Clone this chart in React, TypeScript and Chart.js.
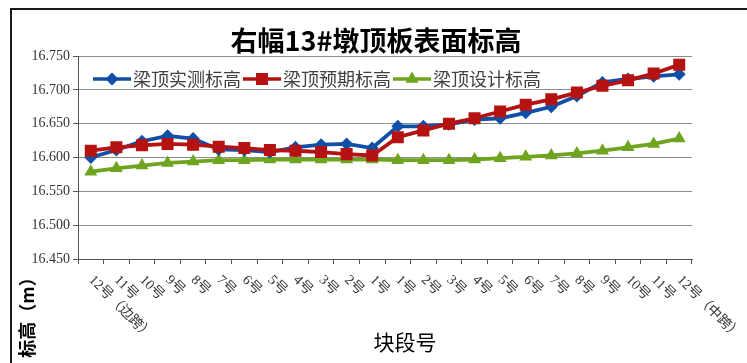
import React, { useEffect, useRef } from "react";
import { Chart, registerables } from "chart.js";

Chart.register(...registerables);

const categories = [
  "12号（边跨）", "11号", "10号", "9号", "8号", "7号", "6号", "5号", "4号", "3号", "2号", "1号",
  "1号", "2号", "3号", "4号", "5号", "6号", "7号", "8号", "9号", "10号", "11号", "12号（中跨）",
];
const seriesNames = ["梁顶实测标高", "梁顶预期标高", "梁顶设计标高"];
const measured = [
  16.600, 16.611, 16.624, 16.632, 16.628, 16.612, 16.611, 16.608, 16.615, 16.619, 16.620, 16.614,
  16.646, 16.646, 16.649, 16.656, 16.658, 16.666, 16.675, 16.691, 16.711, 16.716, 16.720, 16.723,
];
const expected = [
  16.610, 16.615, 16.618, 16.620, 16.619, 16.616, 16.614, 16.611, 16.610, 16.608, 16.605, 16.603,
  16.630, 16.640, 16.650, 16.658, 16.668, 16.678, 16.686, 16.696, 16.706, 16.714, 16.724, 16.737,
];
const design = [
  16.579, 16.584, 16.588, 16.592, 16.594, 16.596, 16.596, 16.597, 16.597, 16.597, 16.597, 16.597,
  16.596, 16.596, 16.596, 16.597, 16.599, 16.601, 16.603, 16.606, 16.610, 16.615, 16.620, 16.628,
];
const yMin = 16.45;
const yMax = 16.75;
const yStep = 0.05;
const chartTitle = "右幅13#墩顶板表面标高";
const xTitle = "块段号";
const yTitle = "标高（m）";

const COLORS = ["#0F4FA8", "#B51212", "#6FA51E"];
const STYLES = ["rectRot", "rect", "triangle"];
const RADII = [6.5, 8.5, 7.5];

const CJK = '"Noto Sans CJK SC"';
const SERIF = '"Liberation Serif", "Noto Sans CJK SC"';

function drawMarker(ctx: CanvasRenderingContext2D, style: string, x: number, y: number, r: number) {
  ctx.beginPath();
  if (style === "rectRot") {
    ctx.moveTo(x, y - r);
    ctx.lineTo(x + r, y);
    ctx.lineTo(x, y + r);
    ctx.lineTo(x - r, y);
  } else if (style === "rect") {
    const s = r * Math.SQRT1_2;
    ctx.rect(x - s, y - s, 2 * s, 2 * s);
  } else {
    ctx.moveTo(x, y - r);
    ctx.lineTo(x + r * Math.sin(Math.PI / 3), y + r * 0.5);
    ctx.lineTo(x - r * Math.sin(Math.PI / 3), y + r * 0.5);
  }
  ctx.closePath();
  ctx.fill();
}

const decor = {
  id: "decor",
  beforeDraw(chart: any) {
    const ctx = chart.ctx;
    ctx.save();
    ctx.fillStyle = "#ffffff";
    ctx.fillRect(0, 0, chart.width, chart.height);
    ctx.strokeStyle = "#1a1a1a";
    ctx.lineWidth = 2;
    ctx.beginPath();
    ctx.moveTo(11, chart.height + 2);
    ctx.lineTo(11, 9);
    ctx.lineTo(chart.width + 2, 9);
    ctx.stroke();
    ctx.restore();
  },
  afterDraw(chart: any) {
    const ctx = chart.ctx;
    const xs = chart.scales.x;
    const area = chart.chartArea;
    ctx.save();

    // title
    ctx.fillStyle = "#000";
    ctx.font = `bold 27px ${CJK}`;
    ctx.textAlign = "center";
    ctx.textBaseline = "middle";
    ctx.fillText(chartTitle, 376, 41);

    // x tick labels, rotated downward
    ctx.font = `14px ${SERIF}`;
    ctx.fillStyle = "#333";
    ctx.textAlign = "left";
    ctx.textBaseline = "middle";
    categories.forEach((c, i) => {
      const px = xs.getPixelForValue(i);
      ctx.save();
      ctx.translate(px, area.bottom + 19);
      ctx.rotate(Math.PI / 4);
      ctx.fillText(c, 0, 0);
      ctx.restore();
    });

    // x title
    ctx.fillStyle = "#000";
    ctx.font = `21px ${CJK}`;
    ctx.textAlign = "center";
    ctx.fillText(xTitle, 405, 342);

    // y title
    ctx.save();
    ctx.translate(27, 313);
    ctx.rotate(-Math.PI / 2);
    ctx.font = `bold 18px ${CJK}`;
    ctx.fillText(yTitle, 0, 0);
    ctx.restore();

    // legend
    let lx = 93;
    const ly = 79;
    ctx.font = `18px ${CJK}`;
    chart.data.datasets.forEach((ds: any, i: number) => {
      ctx.strokeStyle = ds.borderColor;
      ctx.lineWidth = 3.5;
      ctx.beginPath();
      ctx.moveTo(lx, ly);
      ctx.lineTo(lx + 38, ly);
      ctx.stroke();
      ctx.fillStyle = ds.pointBackgroundColor;
      drawMarker(ctx, STYLES[i], lx + 19, ly, RADII[i]);
      ctx.fillStyle = "#404040";
      ctx.textAlign = "left";
      ctx.textBaseline = "middle";
      ctx.fillText(ds.label, lx + 40, ly);
      lx += 40 + ctx.measureText(ds.label).width + 2;
    });
    ctx.restore();
  },
};

export default function App() {
  const ref = useRef<HTMLCanvasElement>(null);
  useEffect(() => {
    if (!ref.current) return;
    const series = [measured, expected, design];
    const chart = new Chart(ref.current, {
      type: "line",
      data: {
        labels: categories,
        datasets: series.map((d, i) => ({
          label: seriesNames[i],
          data: d,
          borderColor: COLORS[i],
          backgroundColor: COLORS[i],
          pointBackgroundColor: COLORS[i],
          pointBorderColor: COLORS[i],
          borderWidth: 3.8,
          pointStyle: STYLES[i] as any,
          pointRadius: RADII[i],
          pointBorderWidth: 0,
          tension: 0,
          order: i === 1 ? 0 : i === 0 ? 1 : 2,
        })),
      },
      options: {
        responsive: false,
        animation: false,
        devicePixelRatio: 1,
        layout: { padding: { left: 0, right: 55, top: 56, bottom: 0 } },
        plugins: {
          legend: { display: false },
          title: { display: false },
          tooltip: { enabled: false },
        },
        scales: {
          x: {
            type: "category",
            offset: true,
            ticks: { display: false },
            grid: {
              display: true,
              drawOnChartArea: false,
              drawTicks: true,
              tickLength: 5,
              offset: true,
              color: "#555",
              lineWidth: 1,
            },
            border: { display: true, color: "#555", width: 1 },
            afterFit: (s: any) => {
              s.height = 104;
            },
          },
          y: {
            min: yMin,
            max: yMax,
            ticks: {
              stepSize: yStep,
              padding: 3,
              color: "#333",
              font: { family: SERIF, size: 14 },
              callback: (v: any) => Number(v).toFixed(3),
            },
            grid: {
              color: "#8c8c8c",
              lineWidth: 1,
              drawTicks: true,
              tickLength: 5,
              tickColor: "#555",
            },
            border: { display: true, color: "#555", width: 1 },
            afterFit: (s: any) => {
              s.width = 78;
            },
          },
        },
      },
      plugins: [decor],
    });
    return () => chart.destroy();
  }, []);
  return (
    <div style={{ position: "fixed", left: 0, top: 0, width: 747, height: 363 }}>
      <canvas ref={ref} width={747} height={363} style={{ display: "block" }} />
    </div>
  );
}
